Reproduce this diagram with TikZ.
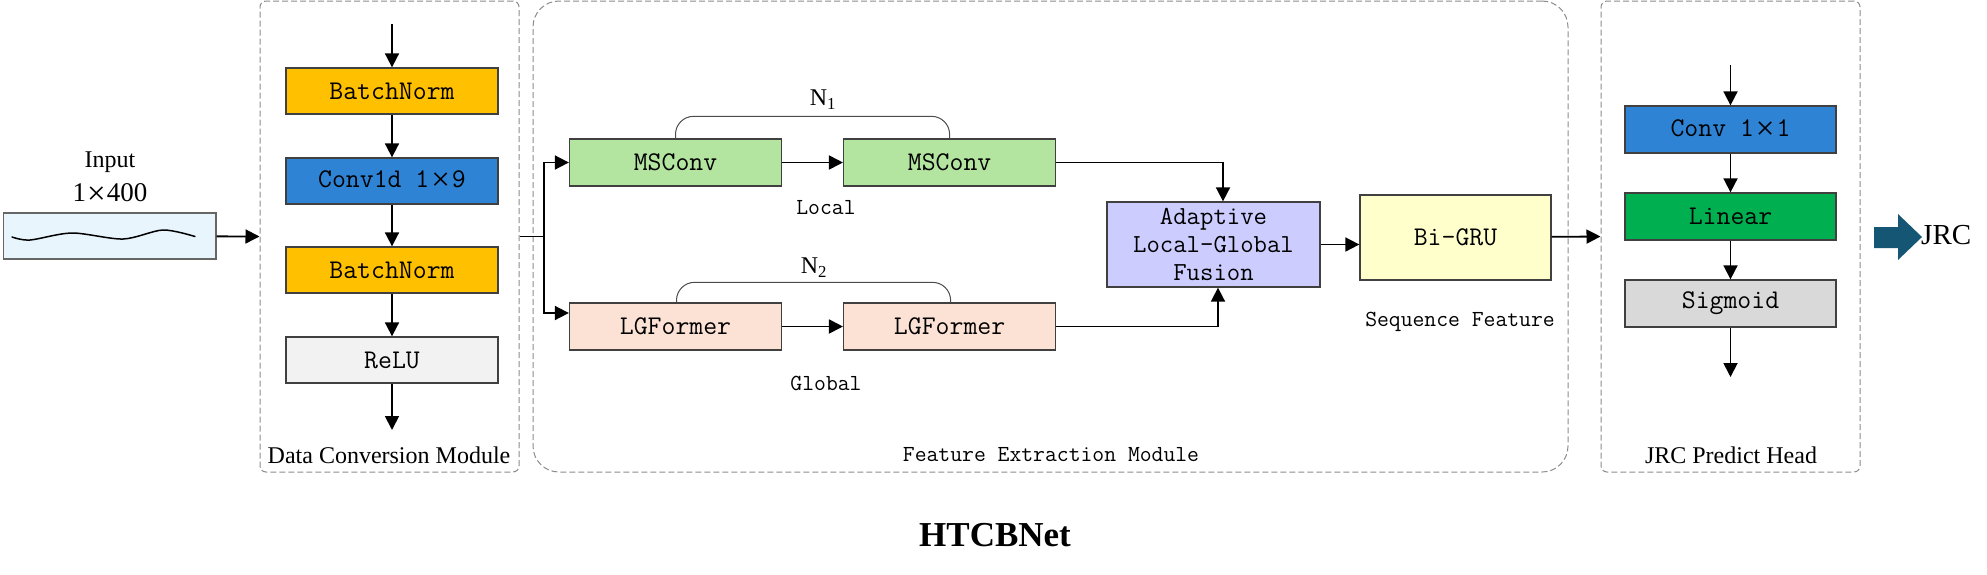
\documentclass[tikz,border=0pt]{standalone}
\usepackage{fontspec}
\setmainfont{Liberation Serif}
\usetikzlibrary{arrows.meta}

\definecolor{cOrange}{HTML}{FFC000}
\definecolor{cBlue}{HTML}{2E83D5}
\definecolor{cRelu}{HTML}{F2F2F2}
\definecolor{cMs}{HTML}{B3E5A1}
\definecolor{cLg}{HTML}{FBE2D5}
\definecolor{cFus}{HTML}{CCCCFF}
\definecolor{cGru}{HTML}{FFFFCC}
\definecolor{cLin}{HTML}{00B050}
\definecolor{cSig}{HTML}{D9D9D9}
\definecolor{cIn}{HTML}{E8F5FC}
\definecolor{cOut}{HTML}{165675}

\newcommand{\bigx}{\raisebox{-3pt}{\rmfamily\fontsize{33}{33}\selectfont ×}}

\begin{document}
\begin{tikzpicture}[x=1pt, y=-1pt, blk/.style={draw=black!75, line width=1.3pt, minimum width=212pt, minimum height=46pt, inner sep=0pt, font=\fontsize{27}{29}\selectfont\ttfamily}, frame/.style={draw=black!45, dash pattern=on 6pt off 3pt, line width=1pt, minimum height=471pt, inner sep=0pt}, n/.style={-{Triangle[length=14pt,width=14pt]}, line width=1.8pt}, rep/.style={draw=black!70, line width=1pt, rounded corners=18pt}, tag/.style={font=\fontsize{23}{25}\selectfont\ttfamily}, lbl/.style={font=\fontsize{24}{26}\selectfont}]
                \useasboundingbox (0,0) rectangle (1987,574);
                % frames
                \node[frame, rounded corners=6pt, minimum width=259pt] (dcm) at (389.5,236.5) {};
                \node[frame, rounded corners=26pt, minimum width=1035pt] (fem) at (1050.5,236.5) {};
                \node[frame, rounded corners=6pt, minimum width=259pt] (head) at (1730.5,236.5) {};
                \node[lbl] (dcmlbl) at (389,455) {Data Conversion Module};
                \node[tag] (femlbl) at (1051,455) {Feature Extraction Module};
                \node[lbl] (headlbl) at (1731,455) {JRC Predict Head};
                % input
                \node[draw=black!60, line width=1.3pt, fill=cIn, minimum width=212.5pt, minimum height=46pt] (input) at (109.7,236) {};
                \draw[line width=1.5pt, line cap=round] plot[smooth] coordinates {(12,237) (30,240) (72,233) (123,239) (163,230) (195,236.5)};
                \node[lbl] (inlbl) at (110,162) {Input};
                \node[font=\fontsize{27}{29}\selectfont] (insize) at (110,194) {1\hspace{1pt}\bigx\hspace{1pt}400};
                % data conversion
                \coordinate (dcmin) at (392,24);
                \coordinate (dcmout) at (392,430);
                \node[blk, fill=cOrange] (bn1) at (392,91) {BatchNorm};
                \node[blk, fill=cBlue] (conv1d) at (392,181) {Conv1d 1\hspace{2pt}\bigx\hspace{2pt}9};
                \node[blk, fill=cOrange] (bn2) at (392,270) {BatchNorm};
                \node[blk, fill=cRelu] (relu) at (392,360) {ReLU};
                % feature extraction
                \coordinate (split) at (544,236.5);
                \node[blk, fill=cMs, minimum width=212pt, minimum height=47pt] (ms1) at (675.5,162.5) {MSConv};
                \node[blk, fill=cMs, minimum width=212pt, minimum height=47pt] (ms2) at (949.6,162.5) {MSConv};
                \node[blk, fill=cLg, minimum width=212pt, minimum height=47pt] (lg1) at (675.5,326.5) {LGFormer};
                \node[blk, fill=cLg, minimum width=212pt, minimum height=47pt] (lg2) at (949.6,326.5) {LGFormer};
                \node[lbl] (n1) at (823,100) {N\textsubscript{1}};
                \node[lbl] (n2) at (814,268) {N\textsubscript{2}};
                \node[tag] (local) at (826,208) {Local};
                \node[tag] (global) at (826,383) {Global};
                \node[blk, fill=cFus, minimum width=213pt, minimum height=85pt, align=center, font=\fontsize{26}{28}\selectfont\ttfamily] (fus) at (1213.5,244.5) {Adaptive\\Local-Global\\Fusion};
                \node[blk, fill=cGru, minimum width=191pt, minimum height=85pt] (gru) at (1455.5,237.5) {Bi-GRU};
                \node[tag] (seq) at (1460,322) {Sequence Feature};
                % predict head
                \coordinate (headin) at (1730.5,65);
                \coordinate (headout) at (1730.5,377);
                \node[blk, fill=cBlue, minimum width=211pt, minimum height=47pt] (conv) at (1730.5,129.5) {Conv 1\hspace{2pt}\bigx\hspace{2pt}1};
                \node[blk, fill=cLin, minimum width=211pt, minimum height=47pt] (lin) at (1730.5,216.5) {Linear};
                \node[blk, fill=cSig, minimum width=211pt, minimum height=47pt] (sig) at (1730.5,303.5) {Sigmoid};
                \fill[cOut] (1874,227) -- (1898,227) -- (1898,214) -- (1922,237) -- (1898,260) -- (1898,248) -- (1874,248) -- cycle;
                \node[font=\fontsize{29}{31}\selectfont, anchor=west, inner sep=0pt] (jrc) at (1921,235) {JRC};
                \node[font=\bfseries\fontsize{35}{38}\selectfont] (title) at (995,535) {HTCBNet};
                % edges
                \draw [n] (input) -- (dcm.west);
                \draw [n] (dcmin) -- (bn1);
                \draw [n] (bn1) -- (conv1d);
                \draw [n] (conv1d) -- (bn2);
                \draw [n] (bn2) -- (relu);
                \draw [n] (relu) -- (dcmout);
                \draw [line width=1.8pt] (dcm.east) -- (split);
                \draw [n] (split) |- (ms1.west);
                \draw [n] (split) |- ([yshift=13.5pt]lg1.west);
                \draw [n] (ms1) -- (ms2);
                \draw [n] (lg1) -- (lg2);
                \draw [rep] (ms1.north) -- ++(0,-22) -| (ms2.north);
                \draw [rep] ([xshift=1pt]lg1.north) -- ++(0,-20) -| ([xshift=1pt]lg2.north);
                \draw [n] (ms2.east) -| ([xshift=9.5pt]fus.north);
                \draw [n] (lg2.east) -| ([xshift=4.5pt]fus.south);
                \draw [n] (fus.east) -- (fus.east -| gru.west);
                \draw [n] (gru) -- (head.west);
                \draw [n] (headin) -- (conv);
                \draw [n] (conv) -- (lin);
                \draw [n] (lin) -- (sig);
                \draw [n] (sig) -- (headout);
            \end{tikzpicture}
\end{document}
